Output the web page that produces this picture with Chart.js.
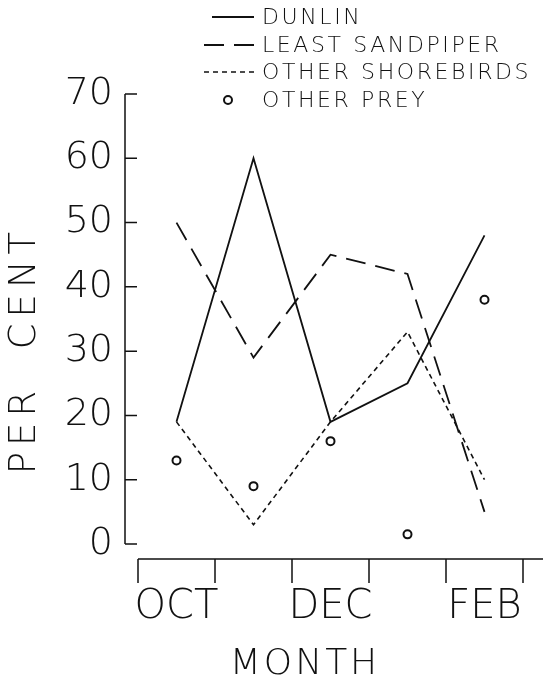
<!DOCTYPE html>
<html>
<head>
<meta charset="utf-8">
<title>Per cent of prey by month</title>
<script src="https://cdn.jsdelivr.net/npm/chart.js@4.4.1/dist/chart.umd.min.js"></script>
<style>
  html, body { margin: 0; padding: 0; background: #fff; }
  #wrap { position: relative; width: 543px; height: 683px; }
</style>
</head>
<body>
<div id="wrap"><canvas id="preyChart"></canvas></div>
<script>
// Data
const months = ['OCT', 'NOV', 'DEC', 'JAN', 'FEB'];
const monthTickLabels = ['OCT', '', 'DEC', '', 'FEB'];
const yTicks = [0, 10, 20, 30, 40, 50, 60, 70];

const dunlin = [19, 60, 19, 25, 48];
const leastSandpiper = [50, 29, 45, 42, 5];
const otherShorebirds = [19, 3, 19, 33, 10];
const otherPrey = [13, 9, 16, 1.5, 38];

const INK = '#111';
const FONT = '"DejaVu Sans", sans-serif';

// Axis lines, tick marks, titles and legend, drawn from the chart's own scales
const framePlugin = {
    id: 'frame',
    afterDraw(chart) {
        const ctx = chart.ctx;
        const area = chart.chartArea;
        const xs = chart.scales.x;
        const ys = chart.scales.y;
        ctx.save();
        ctx.strokeStyle = INK;
        ctx.fillStyle = INK;
        ctx.lineWidth = 1.5;

        // y axis, set a little left of the plot, ticks pointing inward
        const axX = area.left - 13;
        ctx.beginPath();
        ctx.moveTo(axX, ys.getPixelForValue(70));
        ctx.lineTo(axX, ys.getPixelForValue(0));
        yTicks.forEach(v => {
            const py = ys.getPixelForValue(v);
            ctx.moveTo(axX, py);
            ctx.lineTo(axX + 12, py);
        });
        ctx.stroke();

        // x axis, set a little below zero, ticks between months pointing down
        const axY = ys.getPixelForValue(0) + 15;
        const half = (xs.getPixelForValue(1) - xs.getPixelForValue(0)) / 2;
        ctx.beginPath();
        ctx.moveTo(area.left, axY);
        ctx.lineTo(chart.width, axY);
        for (let i = 0; i <= months.length; i++) {
            const px = xs.getPixelForValue(i) - half;
            ctx.moveTo(px, axY);
            ctx.lineTo(px, axY + 24);
        }
        ctx.stroke();

        // axis titles
        ctx.textAlign = 'center';
        ctx.textBaseline = 'middle';
        ctx.font = '200 36px ' + FONT;
        ctx.letterSpacing = '3px';
        ctx.fillText('MONTH', 305, 665);
        ctx.save();
        ctx.translate(25, 350);
        ctx.rotate(-Math.PI / 2);
        ctx.font = '200 37px ' + FONT;
        ctx.letterSpacing = '6px';
        ctx.fillText('PER  CENT', 0, 0);
        ctx.restore();

        // legend
        const rows = [17, 45, 72, 100];
        ctx.font = '200 22px ' + FONT;
        ctx.letterSpacing = '2.6px';
        ctx.textAlign = 'left';
        chart.data.datasets.forEach((ds, i) => {
            const ry = rows[i];
            if (ds.showLine === false) {
                ctx.setLineDash([]);
                ctx.lineWidth = 2;
                ctx.beginPath();
                ctx.arc(228, ry, 4, 0, Math.PI * 2);
                ctx.stroke();
            } else {
                ctx.setLineDash(ds.borderDash || []);
                ctx.lineWidth = ds.borderWidth;
                ctx.beginPath();
                ctx.moveTo(ds.legendStart, ry);
                ctx.lineTo(254, ry);
                ctx.stroke();
            }
            ctx.setLineDash([]);
            ctx.fillText(ds.label, 262, ry + 1);
        });
        ctx.restore();
    }
};

const ctx = document.getElementById('preyChart').getContext('2d');
new Chart(ctx, {
    type: 'line',
    data: {
        labels: months,
        datasets: [
            {
                label: 'DUNLIN',
                data: dunlin,
                borderColor: INK,
                borderWidth: 1.8,
                pointRadius: 0,
                tension: 0,
                legendStart: 212
            },
            {
                label: 'LEAST SANDPIPER',
                data: leastSandpiper,
                borderColor: INK,
                borderWidth: 1.8,
                borderDash: [20, 10],
                pointRadius: 0,
                tension: 0,
                legendStart: 204
            },
            {
                label: 'OTHER SHOREBIRDS',
                data: otherShorebirds,
                borderColor: INK,
                borderWidth: 1.6,
                borderDash: [5, 4],
                pointRadius: 0,
                tension: 0,
                legendStart: 204
            },
            {
                label: 'OTHER PREY',
                data: otherPrey,
                showLine: false,
                borderColor: INK,
                backgroundColor: '#fff',
                pointStyle: 'circle',
                pointRadius: 4,
                pointBorderWidth: 2
            }
        ]
    },
    options: {
        responsive: true,
        maintainAspectRatio: false,
        animation: false,
        layout: { padding: { top: 94, right: 20, left: 0, bottom: 0 } },
        scales: {
            x: {
                type: 'category',
                offset: true,
                grid: { display: false, drawTicks: false },
                border: { display: false },
                ticks: {
                    color: INK,
                    font: { family: FONT, size: 40, weight: 200 },
                    padding: 40,
                    maxRotation: 0,
                    autoSkip: false,
                    callback: (val, i) => monthTickLabels[i]
                },
                afterFit: scale => {
                    scale.height = 139;
                    scale.paddingLeft = 0;
                    scale.paddingRight = 0;
                }
            },
            y: {
                min: 0,
                max: 70,
                grid: { display: false, drawTicks: false },
                border: { display: false },
                ticks: {
                    stepSize: 10,
                    color: INK,
                    font: { family: FONT, size: 38, weight: 200 },
                    padding: 25
                },
                afterFit: scale => {
                    scale.width = 138;
                    scale.paddingTop = 0;
                    scale.paddingBottom = 0;
                }
            }
        },
        plugins: {
            legend: { display: false },
            tooltip: { enabled: false }
        }
    },
    plugins: [framePlugin]
});
</script>
</body>
</html>
